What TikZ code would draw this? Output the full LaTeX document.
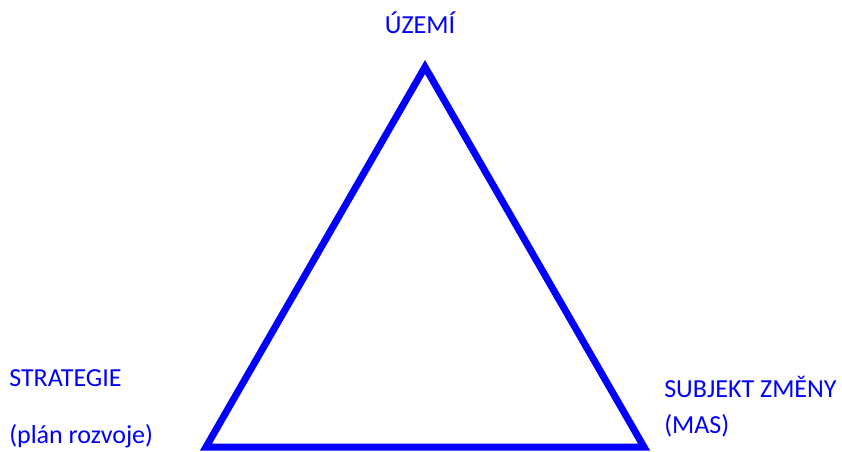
\documentclass[tikz,border=0pt]{standalone}
\usepackage{fontspec}
\setmainfont{Carlito}
\usepackage{tikz}
\usetikzlibrary{positioning}
\definecolor{triblue}{RGB}{0,0,255}

\begin{document}
\begin{tikzpicture}[
    x=0.75pt, y=-0.75pt,
    label/.style={text=triblue, font=\fontsize{19.5}{23}\selectfont, inner sep=0pt},
    side/.style={draw=triblue, line width=5.25pt, line join=miter},
]

    \useasboundingbox (0,0) rectangle (842,452);

    \coordinate (top) at (425,67);
    \coordinate (left) at (206,447);
    \coordinate (right) at (644,447);

    \node (uzemi) [label, anchor=base] at (420,34) {ÚZEMÍ};
    \node (strategie) [label, anchor=base west] at (9,386) {STRATEGIE};
    \node (plan) [label, anchor=base west] at (9,443) {(plán rozvoje)};
    \node (subjekt) [label, anchor=base west] at (664,397) {SUBJEKT ZMĚNY};
    \node (mas) [label, anchor=base west] at (664,433) {(MAS)};

    \draw [side] (top) -- (left) -- (right) -- cycle;

\end{tikzpicture}
\end{document}
